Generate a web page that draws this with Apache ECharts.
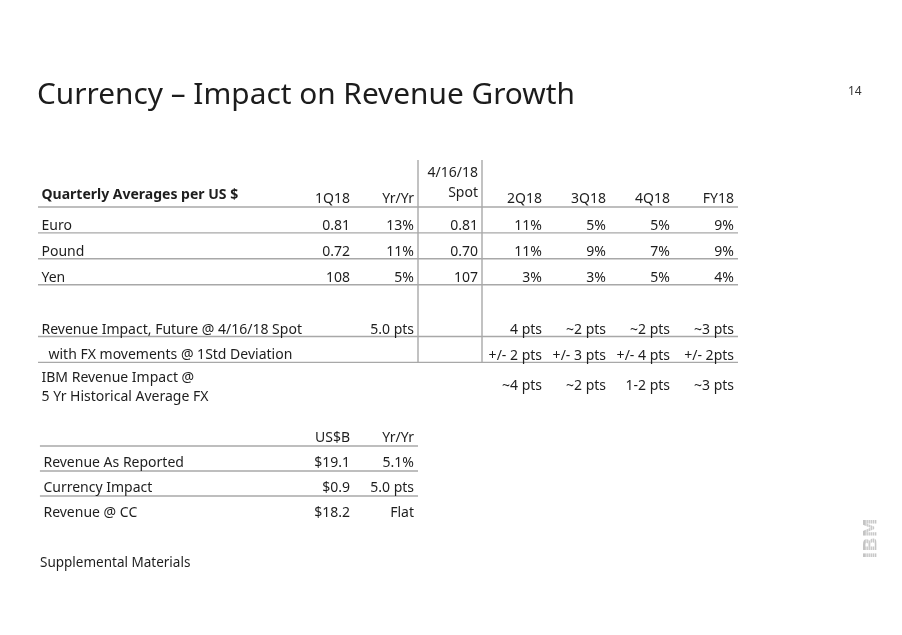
<!DOCTYPE html>
<html><head><meta charset="utf-8">
<script src="https://cdn.jsdelivr.net/npm/echarts@6/dist/echarts.min.js"></script>
<style>html,body{margin:0;padding:0;background:#fff}#c{width:902px;height:635px}</style>
</head><body><div id="c"></div>
<script>
// ---------------- data ----------------
const titleText = 'Currency – Impact on Revenue Growth';
const pageNumber = '14';
const footnote = 'Supplemental Materials';

const fxHeaderLabel = 'Quarterly Averages per US $';
const fxColumns = ['1Q18', 'Yr/Yr', '4/16/18\nSpot', '2Q18', '3Q18', '4Q18', 'FY18'];
const currencies = ['Euro', 'Pound', 'Yen'];
const avg1Q18 = ['0.81', '0.72', '108'];
const yrYr1Q18 = ['13%', '11%', '5%'];
const spot41618 = ['0.81', '0.70', '107'];
const est2Q18 = ['11%', '11%', '3%'];
const est3Q18 = ['5%', '9%', '3%'];
const est4Q18 = ['5%', '7%', '5%'];
const estFY18 = ['9%', '9%', '4%'];

const impactLabels = ['Revenue Impact, Future @ 4/16/18 Spot', 'with FX movements @ 1Std Deviation', 'IBM Revenue Impact @\n5 Yr Historical Average FX'];
const impact1Q18 = ['', '', ''];
const impactYrYr = ['5.0 pts', '', ''];
const impactSpot = ['', '', ''];
const impact2Q18 = ['4 pts', '+/- 2 pts', '~4 pts'];
const impact3Q18 = ['~2 pts', '+/- 3 pts', '~2 pts'];
const impact4Q18 = ['~2 pts', '+/- 4 pts', '1-2 pts'];
const impactFY18 = ['~3 pts', '+/- 2pts', '~3 pts'];

const revColumns = ['US$B', 'Yr/Yr'];
const revLabels = ['Revenue As Reported', 'Currency Impact', 'Revenue @ CC'];
const revUSD = ['$19.1', '$0.9', '$18.2'];
const revYrYr = ['5.1%', '5.0 pts', 'Flat'];

// ---------------- layout / style ----------------
const FONT = "'Noto Sans', 'Open Sans', sans-serif";
const TXT = '#1e1e1e';
const LINE = '#a8a8a8';
const XMIN = -3.9375, XMAX = 7;   // column units: numeric column k has its right edge at k

// ---------------- build table 1 cells ----------------
const cells1 = [];
cells1.push({col: 0, row: 0, text: fxHeaderLabel, kind: 'headLabel'});
fxColumns.forEach((h, i) => cells1.push({col: i + 1, row: 0, text: h, kind: h.indexOf('\n') >= 0 ? 'headSpot' : 'head'}));
const fxValueCols = [avg1Q18, yrYr1Q18, spot41618, est2Q18, est3Q18, est4Q18, estFY18];
currencies.forEach((name, r) => {
  cells1.push({col: 0, row: r + 1, text: name, kind: 'label'});
  fxValueCols.forEach((arr, i) => cells1.push({col: i + 1, row: r + 1, text: arr[r], kind: 'value'}));
});
const impactValueCols = [impact1Q18, impactYrYr, impactSpot, impact2Q18, impact3Q18, impact4Q18, impactFY18];
impactLabels.forEach((name, r) => {
  const row = r + 5;
  const tall = name.indexOf('\n') >= 0;
  cells1.push({col: 0, row, text: name, kind: tall ? 'tallLabel' : (r === 1 ? 'indentLabel' : 'label')});
  impactValueCols.forEach((arr, i) => { if (arr[r]) cells1.push({col: i + 1, row, text: arr[r], kind: tall ? 'tallValue' : 'value'}); });
});

// table 2 cells
const cells2 = [];
revColumns.forEach((h, i) => cells2.push({col: i + 1, row: 0, text: h, kind: 'value'}));
revLabels.forEach((name, r) => {
  cells2.push({col: 0, row: r + 1, text: name, kind: 'label'});
  cells2.push({col: 1, row: r + 1, text: revUSD[r], kind: 'value'});
  cells2.push({col: 2, row: r + 1, text: revYrYr[r], kind: 'value'});
});

// rules (in axis units)
const rows1Ruled = [0, 1, 2, 3, 5, 6];
const lines1 = rows1Ruled.map(r => [XMIN, r + 0.5, XMAX, r + 0.5]);
lines1.push([2, -1.31, 2, 6.5]);
lines1.push([3, -1.31, 3, 6.5]);
const lines2 = [0, 1, 2].map(r => [XMIN + 0.03, r + 0.5, 2, r + 0.5]);

const dyByKind1 = {headLabel: -12, head: -8, headSpot: -23.5, label: -6.5, indentLabel: -7, value: -6.5, tallLabel: -0.7, tallValue: -2.5};

function textRenderer(cells, dyMap) {
  return function (params, api) {
    const c = cells[params.dataIndex];
    const p = api.coord([api.value(0), api.value(1) + 0.5]);
    const isLabel = c.col === 0;
    let x = isLabel ? p[0] + 3.5 : p[0] - 4;
    if (c.kind === 'indentLabel') x += 7;
    return {
      type: 'text',
      x: x,
      y: p[1] + dyMap[c.kind],
      style: {
        text: c.text,
        align: isLabel ? 'left' : 'right',
        verticalAlign: 'middle',
        fontFamily: FONT,
        fontSize: 14,
        fontWeight: c.kind === 'headLabel' ? 'bold' : 'normal',
        lineHeight: (c.kind === 'headSpot') ? 20 : 19,
        fill: TXT
      }
    };
  };
}
function lineRenderer(params, api) {
  const a = api.coord([api.value(0), api.value(1)]);
  const b = api.coord([api.value(2), api.value(3)]);
  return {type: 'line', shape: {x1: a[0], y1: a[1], x2: b[0], y2: b[1]}, style: {stroke: LINE, lineWidth: 1.4}};
}

const chart = echarts.init(document.getElementById('c'), null, {renderer: 'canvas'});
const stripes = [];
for (let i = 0; i < 7; i++) {
  stripes.push({type: 'line', shape: {x1: 866.2 + i * 2.05, y1: 512, x2: 866.2 + i * 2.05, y2: 564}, style: {stroke: '#ffffff', lineWidth: 0.7}, z: 101});
}
chart.setOption({
  backgroundColor: '#ffffff',
  animation: false,
  title: [
    {text: titleText, left: 37, top: 81, padding: 0, textStyle: {fontFamily: FONT, fontSize: 29.8, fontWeight: 'normal', color: '#1c1c1c'}},
    {text: pageNumber, left: 848, top: 86, padding: 0, textStyle: {fontFamily: FONT, fontSize: 12, fontWeight: 'normal', color: '#333'}},
    {text: footnote, left: 40, top: 556, padding: 0, textStyle: {fontFamily: FONT, fontSize: 13.5, fontWeight: 'normal', color: TXT}}
  ],
  grid: [
    {left: 38, width: 700, top: 155.2, height: 259},
    {left: 38, width: 700, top: 421, height: 100}
  ],
  xAxis: [
    {gridIndex: 0, type: 'value', min: XMIN, max: XMAX, show: false},
    {gridIndex: 1, type: 'value', min: XMIN, max: XMAX, show: false}
  ],
  yAxis: [
    {gridIndex: 0, type: 'value', min: -1.5, max: 8.5, inverse: true, show: false},
    {gridIndex: 1, type: 'value', min: -0.5, max: 3.5, inverse: true, show: false}
  ],
  series: [
    {type: 'custom', xAxisIndex: 0, yAxisIndex: 0, clip: false, renderItem: lineRenderer, data: lines1, encode: {x: [0, 2], y: [1, 3]}},
    {type: 'custom', xAxisIndex: 0, yAxisIndex: 0, clip: false, renderItem: textRenderer(cells1, dyByKind1),
      data: cells1.map(c => [c.col === 0 ? XMIN : c.col, c.row]), encode: {x: 0, y: 1}},
    {type: 'custom', xAxisIndex: 1, yAxisIndex: 1, clip: false, renderItem: lineRenderer, data: lines2, encode: {x: [0, 2], y: [1, 3]}},
    {type: 'custom', xAxisIndex: 1, yAxisIndex: 1, clip: false,
      renderItem: textRenderer(cells2, {label: -8, value: -8}),
      data: cells2.map(c => [c.col === 0 ? XMIN + 0.03 : c.col, c.row]), encode: {x: 0, y: 1}}
  ],
  graphic: [
    {type: 'text', x: 872.5, y: 538.5, rotation: Math.PI / 2, z: 100,
      style: {text: 'IBM', fontFamily: "'DejaVu Sans', sans-serif", fontWeight: 'bold', fontSize: 19, fill: '#c4c4c4', align: 'center', verticalAlign: 'middle'}}
  ].concat(stripes)
});
</script></body></html>
